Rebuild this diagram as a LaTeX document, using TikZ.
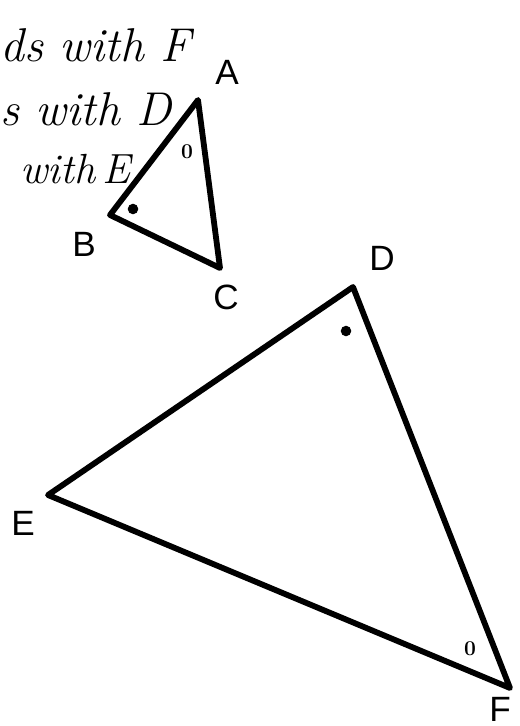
\documentclass[tikz,border=0pt]{standalone}
\usepackage{fontspec}
\setsansfont{Liberation Sans}
\begin{document}
\begin{tikzpicture}[x=0.02cm, y=-0.02cm]
  % Styles
  \tikzset{
    cote/.style={line width=3.3pt, line join=round, line cap=round},
    lettre/.style={font=\sffamily\fontsize{20}{22}\selectfont, inner sep=0pt},
    note/.style={font=\itshape\fontsize{27}{29}\selectfont, anchor=base west, inner sep=0pt},
    pt/.style={fill=black, circle, minimum size=6pt, inner sep=0pt},
    zero/.style={font=\bfseries\fontsize{12}{12}\selectfont, inner sep=0pt},
  }

  % Cadre
  \useasboundingbox (0,0) rectangle (520,726);

  % Notes manuscrites
  \node[note] (n1) at (0,62) {ds with F};
  \node[note] (n2) at (0,126) {s with D};
  \node[note, font=\itshape\fontsize{24}{26}\selectfont] (n3) at (20,184) {with\,E};

  % Sommets
  \coordinate (A) at (198,100);
  \coordinate (B) at (110,215);
  \coordinate (C) at (220,268);
  \coordinate (D) at (353,287);
  \coordinate (E) at (48,495);
  \coordinate (F) at (510,688);

  % Triangles
  \draw[cote] (A) -- (B) -- (C) -- cycle;
  \draw[cote] (D) -- (E) -- (F) -- cycle;

  % Lettres
  \foreach \n/\x/\y in {A/227/72, B/84/244, C/226/297, D/382/258, E/23/523, F/500/709}
    \node[lettre] (l\n) at (\x,\y) {\n};

  % Marques d'angles
  \node[zero] (mA) at (187,152) {0};
  \node[zero] (mF) at (470,649) {0};
  \node[pt] (mB) at (133,209) {};
  \node[pt] (mD) at (346,331) {};

\end{tikzpicture}
\end{document}
